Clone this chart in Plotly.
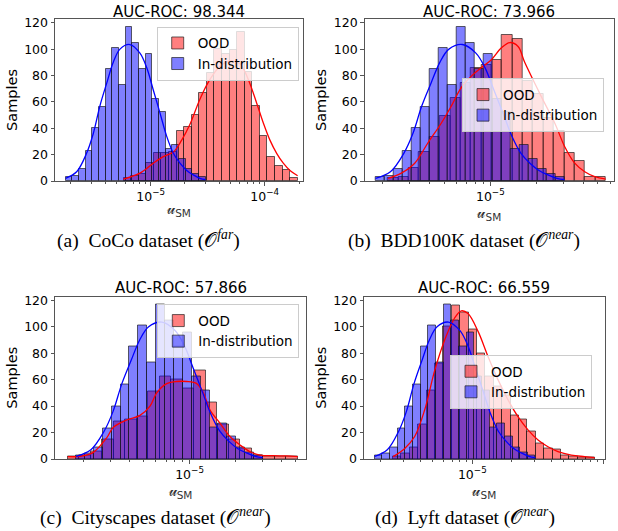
import math
import plotly.graph_objects as go

# ---------------- data ----------------
PANEL_TITLES = ["AUC-ROC: 98.344", "AUC-ROC: 73.966", "AUC-ROC: 57.866", "AUC-ROC: 66.559"]
CAPTIONS = [
    "(a)\u2002CoCo dataset (𝒪<sup><i>far</i></sup>)",
    "(b)\u2002BDD100K dataset (𝒪<sup><i>near</i></sup>)",
    "(c)\u2002Cityscapes dataset (𝒪<sup><i>near</i></sup>)",
    "(d)\u2002Lyft dataset (𝒪<sup><i>near</i></sup>)",
]
SERIES_NAMES = ["OOD", "In-distribution"]
X_TITLE = "𝓊<sub>SM</sub>"
Y_TITLE = "Samples"
X_TICK_EXPONENTS = [-6, -5, -4, -3]
Y_TICKS = [0, 20, 40, 60, 80, 100, 120]

# In-distribution histogram (identical in every panel); bins in log10(u_SM)
ID_LOG_START = -5.746
ID_LOG_WIDTH = 0.0585
ID_COUNTS = [3, 4, 9, 23, 40, 56, 85, 101, 73, 117, 105, 85, 96, 62, 52, 24, 27, 17, 9, 5, 3]
ID_KDE_LOGX = [-5.746, -5.649, -5.562, -5.503, -5.445, -5.386, -5.328, -5.269, -5.182, -5.094,
               -5.035, -4.977, -4.918, -4.860, -4.801, -4.743, -4.684, -4.626, -4.568, -4.518]
ID_KDE_Y = [2, 7, 21, 36, 57, 74, 90, 100, 103.5, 97, 86, 69, 51.5, 34, 21, 13.5, 8, 4.6, 2, 1]

# OOD histograms per panel
OOD_LOG_START = [-5.238, -5.664, -5.801, -5.605]
OOD_LOG_WIDTH = [0.0664, 0.0673, 0.0757, 0.0641]
OOD_COUNTS_A = [2, 4, 5, 14, 21, 21, 22, 38, 41, 50, 67, 82, 100, 96, 99, 113, 83, 57, 34, 18, 11, 8, 2]
OOD_COUNTS_B = [2, 3, 10, 22, 33, 49, 63, 74, 86, 88, 92, 111, 108, 76, 66, 48, 38, 21, 15, 3, 3]
OOD_COUNTS_C = [2, 3, 6, 15, 28, 30, 32, 51, 62, 60, 53, 67, 43, 26, 15, 8, 3, 2, 2, 2]
OOD_COUNTS_D = [2, 4, 9, 26, 52, 72, 100, 116, 111, 98, 80, 62, 55, 48, 33, 30, 21, 12, 8, 7, 3, 2, 1, 1]

OOD_KDE_LOGX_A = [-5.240, -5.094, -4.977, -4.889, -4.801, -4.728, -4.655, -4.568, -4.480, -4.392,
                  -4.304, -4.217, -4.144, -4.070, -4.012, -3.954, -3.895, -3.837, -3.778, -3.711]
OOD_KDE_Y_A = [1.5, 6, 13.5, 18.5, 22, 31, 43, 62, 77, 87, 91, 89, 77, 59, 44, 31, 21, 13.5, 8, 4]
OOD_KDE_LOGX_B = [-5.664, -5.578, -5.491, -5.405, -5.318, -5.253, -5.188, -5.123, -5.058, -4.993,
                  -4.928, -4.874, -4.820, -4.777, -4.669, -4.582, -4.517, -4.452, -4.387, -4.322, -4.251]
OOD_KDE_Y_B = [2, 6, 13.5, 29, 44, 57, 71, 79.5, 86, 92, 101, 105, 102, 90, 64, 44, 26, 13.5, 7, 3.3, 1.5]
OOD_KDE_LOGX_C = [-5.801, -5.720, -5.633, -5.545, -5.501, -5.413, -5.326, -5.260, -5.216, -5.150,
                  -5.084, -5.019, -4.953, -4.909, -4.865, -4.799, -4.734, -4.668, -4.602, -4.536,
                  -4.448, -4.361, -4.288]
OOD_KDE_Y_C = [1.8, 2, 5, 16, 24, 29.5, 33, 40, 50, 57, 58.6, 58.6, 57, 50, 37, 27, 17, 10.6, 5.5, 3,
               2.5, 2.3, 1.8]
OOD_KDE_LOGX_D = [-5.605, -5.516, -5.440, -5.364, -5.287, -5.211, -5.135, -5.084, -5.033, -4.956,
                  -4.880, -4.804, -4.727, -4.651, -4.575, -4.498, -4.422, -4.346, -4.244, -4.142, -4.066]
OOD_KDE_Y_D = [1.8, 8, 17, 37, 67, 90, 106.6, 112, 110, 96.5, 77.5, 60, 44.7, 32, 22, 14.4, 9.3, 5.6,
               3, 1.8, 1]

OOD_COUNTS = [OOD_COUNTS_A, OOD_COUNTS_B, OOD_COUNTS_C, OOD_COUNTS_D]
OOD_KDE_LOGX = [OOD_KDE_LOGX_A, OOD_KDE_LOGX_B, OOD_KDE_LOGX_C, OOD_KDE_LOGX_D]
OOD_KDE_Y = [OOD_KDE_Y_A, OOD_KDE_Y_B, OOD_KDE_Y_C, OOD_KDE_Y_D]

# ---------------- layout / style ----------------
W, H = 618, 531
FONT = "DejaVu Sans"
SERIF = "Liberation Serif, Times New Roman, serif"
# pixel boxes of the four plot areas: (left, right, top, bottom)
BOXES = [(55, 303, 19, 181), (364.7, 614, 19, 181), (55, 306, 296.5, 459), (364, 604.7, 296.5, 459)]
# x ranges in log10 units
XRANGES = [(-5.839, -3.664), (-5.816, -4.197), (-5.885, -4.234), (-5.827, -3.989)]
YMAX = 122.85
TITLE_Y = [11.7, 11.7, 288.3, 288.3]
LEGEND_POS = [(156.7, 26.7), (462, 78.3), (157.3, 304.3), (450, 355)]
CAPTION_POS = [(148, 239), (464, 239), (155, 516), (465, 516)]

RED_FILL = "rgba(255,0,0,0.5)"
BLUE_FILL = "rgba(0,0,255,0.5)"
EDGE = "rgba(20,20,20,0.65)"
AXCOL = "#555555"


def px(x):
    return x / W


def py(y):
    return 1 - y / H


fig = go.Figure()
layout = dict(
    width=W, height=H, margin=dict(l=0, r=0, t=0, b=0),
    paper_bgcolor="white", plot_bgcolor="white",
    font=dict(family=FONT, color="black"),
    barmode="overlay", bargap=0, showlegend=True,
    annotations=[],
)

for i in range(4):
    n = "" if i == 0 else str(i + 1)
    xa, ya = "x" + n, "y" + n
    lg = "legend" + n
    l, r, t, b = BOXES[i]

    ood_x = [OOD_LOG_START[i] + (k + 0.5) * OOD_LOG_WIDTH[i] for k in range(len(OOD_COUNTS[i]))]
    id_x = [ID_LOG_START + (k + 0.5) * ID_LOG_WIDTH for k in range(len(ID_COUNTS))]

    fig.add_trace(go.Bar(x=ood_x, y=OOD_COUNTS[i], width=OOD_LOG_WIDTH[i], name=SERIES_NAMES[0],
                         marker=dict(color=RED_FILL, line=dict(color=EDGE, width=1)),
                         xaxis=xa, yaxis=ya, legend=lg))
    fig.add_trace(go.Bar(x=id_x, y=ID_COUNTS, width=ID_LOG_WIDTH, name=SERIES_NAMES[1],
                         marker=dict(color=BLUE_FILL, line=dict(color=EDGE, width=1)),
                         xaxis=xa, yaxis=ya, legend=lg))
    fig.add_trace(go.Scatter(x=OOD_KDE_LOGX[i], y=OOD_KDE_Y[i], mode="lines",
                             line=dict(color="red", width=1.3, shape="spline"),
                             showlegend=False, xaxis=xa, yaxis=ya, hoverinfo="skip"))
    fig.add_trace(go.Scatter(x=ID_KDE_LOGX, y=ID_KDE_Y, mode="lines",
                             line=dict(color="blue", width=1.3, shape="spline"),
                             showlegend=False, xaxis=xa, yaxis=ya, hoverinfo="skip"))

    minor_vals = [math.log10(k * 10.0 ** e) for e in range(-7, -2) for k in range(2, 10)]
    layout["xaxis" + n] = dict(
        domain=[px(l), px(r)], anchor=ya, range=list(XRANGES[i]),
        tickvals=X_TICK_EXPONENTS,
        ticktext=["10<sup>\u2212%d</sup>" % (-e) for e in X_TICK_EXPONENTS],
        tickfont=dict(size=12.5, color="black"),
        ticks="outside", ticklen=3.5, tickwidth=1, tickcolor=AXCOL,
        minor=dict(tickvals=minor_vals, ticks="outside", ticklen=2, tickwidth=0.8, tickcolor=AXCOL),
        showline=True, linecolor=AXCOL, linewidth=1, mirror=True,
        showgrid=False, zeroline=False, automargin=False,
        title=dict(text=X_TITLE, font=dict(size=15, color="#333333"), standoff=0),
    )
    layout["yaxis" + n] = dict(
        domain=[py(b), py(t)], anchor=xa, range=[0, YMAX],
        tickvals=Y_TICKS, tickfont=dict(size=12.5, color="black"),
        ticks="outside", ticklen=3.5, tickwidth=1, tickcolor=AXCOL,
        showline=True, linecolor=AXCOL, linewidth=1, mirror=True,
        showgrid=False, zeroline=False, automargin=False,
        title=dict(text=Y_TITLE, font=dict(size=14.5, color="black"), standoff=3),
    )
    lx, ly = LEGEND_POS[i]
    layout[lg] = dict(
        x=px(lx), y=py(ly), xanchor="left", yanchor="top",
        bgcolor="rgba(255,255,255,0.8)", bordercolor="#cccccc", borderwidth=1,
        font=dict(size=13.5, color="black"), itemwidth=30, tracegroupgap=0,
    )
    layout["annotations"].append(dict(
        text=PANEL_TITLES[i], x=px((l + r) / 2), y=py(TITLE_Y[i]), xref="paper", yref="paper",
        showarrow=False, xanchor="center", yanchor="middle", font=dict(size=15, color="black")))
    cx, cy = CAPTION_POS[i]
    layout["annotations"].append(dict(
        text=CAPTIONS[i], x=px(cx), y=py(cy), xref="paper", yref="paper",
        showarrow=False, xanchor="center", yanchor="middle",
        font=dict(size=19.5, family=SERIF, color="black")))

fig.update_layout(**layout)
fig.write_html("out.html", config={"displayModeBar": False},
               post_script="document.body.style.margin='0px';document.body.style.overflow='hidden';")
